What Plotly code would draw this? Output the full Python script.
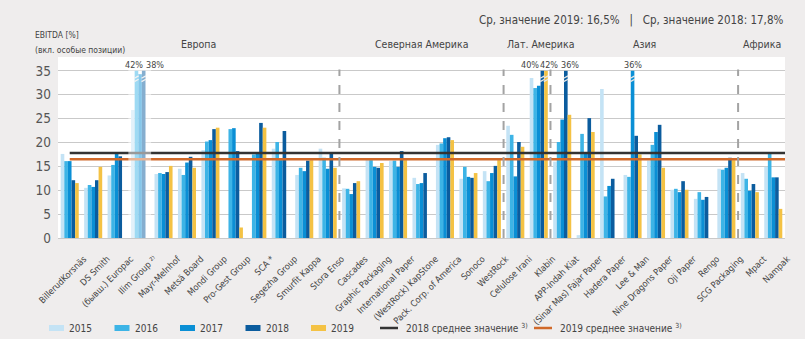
import plotly.graph_objects as go

# ---------------- data ----------------
companies = [
    "BillerudKorsnäs", "DS Smith", "(бывш.) Europac", "Ilim Group ²⁾", "Mayr-Melnhof",
    "Metsä Board", "Mondi Group", "Pro-Gest Group", "SCA *", "Segezha Group",
    "Smurfit Kappa", "Stora Enso",
    "Cascades", "Graphic Packaging", "International Paper", "(WestRock) KapStone",
    "Pack. Corp. of America", "Sonoco", "WestRock",
    "Celulose Irani", "Klabin",
    "APP-Indah Kiat", "(Sinar Mas) Fajar Paper", "Hadera Paper", "Lee & Man",
    "Nine Dragons Paper", "Oji Paper", "Rengo", "SCG Packaging",
    "Mpact", "Nampak",
]
regions = ["Европа", "Северная Америка", "Лат. Америка", "Азия", "Африка"]
region_sizes = [12, 7, 2, 8, 2]
years = ["2015", "2016", "2017", "2018", "2019"]

ebitda_2015 = [17.6, 10.5, 13.1, 26.8, 13.4, 14.5, 18.4, None, None, 18.7, 13.2, 18.7,
               10.4, 16.6, 16.1, 12.6, 19.5, 12.4, 14.0,
               23.5, 33.5,
               16.0, 0.6, 31.2, 13.2, 16.2, 10.1, 8.2, 14.5,
               13.6, 14.9]
ebitda_2016 = [16.1, 11.1, 15.3, 42.0, 13.6, 13.2, 20.2, 22.8, 17.5, 20.1, 14.7, 16.8,
               10.3, 16.3, 16.2, 11.3, 19.8, 14.9, 11.9,
               21.6, 31.4,
               20.1, 21.8, 8.7, 12.8, 19.5, 10.3, 9.6, 14.3,
               12.4, 17.6]
ebitda_2017 = [16.1, 10.7, 17.6, 34.3, 13.4, 15.8, 20.5, 23.0, 18.0, 16.3, 14.0, 14.5,
               9.2, 14.9, 14.9, 11.5, 20.9, 12.8, 13.6,
               12.9, 31.9,
               24.8, 17.6, 10.9, 36.0, 22.2, 9.6, 8.0, 14.7,
               9.9, 12.7]
ebitda_2018 = [12.1, 12.1, 17.1, 38.0, 13.8, 17.0, 22.8, 18.2, 24.1, 22.4, 16.2, 17.9,
               11.5, 14.7, 18.2, 13.6, 21.1, 12.6, 15.1,
               20.1, 40.0,
               36.0, 25.1, 12.4, 21.4, 23.7, 11.9, 8.6, 16.8,
               11.3, 12.7]
ebitda_2019 = [11.5, 14.9, None, None, 15.1, 14.7, 23.1, 2.2, 23.1, None, 16.3, 14.7,
               11.9, 15.7, 16.3, None, 20.5, 13.6, 16.3,
               19.1, 42.0,
               25.8, 22.2, None, 17.5, 14.7, 10.1, None, 16.3,
               9.6, 6.1]
series = [ebitda_2015, ebitda_2016, ebitda_2017, ebitda_2018, ebitda_2019]

avg_2018 = 17.8
avg_2019 = 16.5
avg_names = ["2018 среднее значение <sup>3)</sup>", "2019 среднее значение <sup>3)</sup>"]
axis_cap = 35          # bars above this value are broken
faded_company = "Ilim Group ²⁾"

# ---------------- style / layout geometry ----------------
colors = ["#c4e3f5", "#3db4e6", "#0a8fd5", "#0b5c9e", "#f4c244"]
avg_colors = ["#333333", "#d0692a"]
FONT = "DejaVu Sans Condensed, Liberation Sans Narrow, Roboto, sans-serif"
TXT = "#444444"
W, H = 805, 339
M = dict(l=58, r=20, t=57, b=101)
PW, PH = W - M["l"] - M["r"], H - M["t"] - M["b"]
bargap = 0.23
slot = (1 - bargap) / len(years)


def px_x(px):   # page pixel -> paper x
    return (px - M["l"]) / PW


def px_y(py):   # page pixel -> paper y
    return (H - M["b"] - py) / PH


x_idx = list(range(len(companies)))
fig = go.Figure()

for k, (yr, vals) in enumerate(zip(years, series)):
    shown = [None if v is None else min(v, axis_cap) for v in vals]
    fig.add_trace(go.Bar(
        x=x_idx, y=shown, name=yr, marker_color=colors[k], marker_line_width=0,
        customdata=vals, hovertemplate="%{customdata}%<extra>" + yr + "</extra>",
    ))

n = len(companies)
for name, val, col in zip(avg_names, [avg_2018, avg_2019], avg_colors):
    fig.add_trace(go.Scatter(
        x=[0, n - 0.5], y=[val, val], mode="lines", name=name,
        line=dict(color=col, width=2.5), hoverinfo="skip",
    ))

# broken-bar labels and break marks
label_shift = {("Ilim Group ²⁾", "2016"): -6, ("Ilim Group ²⁾", "2018"): 15,
               ("Klabin", "2018"): -9, ("Klabin", "2019"): 10,
               ("APP-Indah Kiat", "2018"): 8, ("Lee & Man", "2017"): 0}
annotations = []
shapes = []
for k, (yr, vals) in enumerate(zip(years, series)):
    for i, v in enumerate(vals):
        if v is not None and v > axis_cap:
            xb = i + (k - 2) * slot
            annotations.append(dict(x=i, y=axis_cap + 1.3, xref="x", yref="y",
                                    text=f"{v:.0f}%", showarrow=False,
                                    xshift=label_shift.get((companies[i], yr), 0),
                                    font=dict(size=9, color=TXT, family=FONT)))
            for dy in (-2.0, -1.3):
                shapes.append(dict(type="line", xref="x", yref="y", layer="above",
                                   x0=xb - slot * 0.6, x1=xb + slot * 0.6,
                                   y0=axis_cap + dy - 0.25, y1=axis_cap + dy + 0.25,
                                   line=dict(color="#e6e6e6", width=1.3)))

# region labels and separators
start = -0.5
for r, (reg, size) in enumerate(zip(regions, region_sizes)):
    center = start + size / 2
    anchor = "center"
    xpos = center
    if reg == "Лат. Америка":
        xpos, anchor = start + 0.05, "left"
    annotations.append(dict(x=xpos, y=px_y(44), xref="x", yref="paper", text=reg,
                            showarrow=False, xanchor=anchor, yanchor="middle",
                            font=dict(size=10.5, color=TXT, family=FONT)))
    start += size
    if r < len(regions) - 1:
        shapes.append(dict(type="line", x0=start, x1=start, y0=0, y1=axis_cap + 0.3,
                           xref="x", yref="y", layer="above",
                           line=dict(color="#a3a3a3", width=2, dash="dash")))

fi = companies.index(faded_company)
shapes.append(dict(type="rect", x0=fi - 0.5, x1=fi + 0.47, y0=0, y1=axis_cap + 0.3,
                   xref="x", yref="y", layer="above", fillcolor="white",
                   opacity=0.5, line_width=0))

# header texts
annotations += [
    dict(x=1.0, y=px_y(20), xref="paper", yref="paper", xanchor="right", yanchor="middle",
         text=f"Ср. значение 2019: {avg_2019:.1f}%".replace(".", ",") + "   |   " +
              f"Ср. значение 2018: {avg_2018:.1f}%".replace(".", ","),
         showarrow=False, font=dict(size=11.5, color=TXT, family=FONT)),
    dict(x=px_x(33), y=px_y(35), xref="paper", yref="paper", xanchor="left",
         yanchor="middle", text="EBITDA [%]", showarrow=False,
         font=dict(size=8.5, color=TXT, family=FONT)),
    dict(x=px_x(33), y=px_y(50), xref="paper", yref="paper", xanchor="left",
         yanchor="middle", text="(вкл. особые позиции)", showarrow=False,
         font=dict(size=8.5, color=TXT, family=FONT)),
]

# legend (drawn manually so the spacing matches the original)
LEG_Y = 328
for k, yr in enumerate(years):
    x0 = 49 + 65.5 * k
    shapes.append(dict(type="rect", xref="paper", yref="paper",
                       x0=px_x(x0), x1=px_x(x0 + 15), y0=px_y(LEG_Y + 3), y1=px_y(LEG_Y - 3),
                       fillcolor=colors[k], line_width=0, layer="above"))
    annotations.append(dict(x=px_x(x0 + 18), y=px_y(LEG_Y), xref="paper", yref="paper",
                            xanchor="left", yanchor="middle", text=yr, showarrow=False,
                            font=dict(size=10, color=TXT, family=FONT)))
for j, (name, col) in enumerate(zip(avg_names, avg_colors)):
    x0 = 380 + 154 * j
    shapes.append(dict(type="line", xref="paper", yref="paper",
                       x0=px_x(x0), x1=px_x(x0 + 18), y0=px_y(LEG_Y), y1=px_y(LEG_Y),
                       line=dict(color=col, width=2.5), layer="above"))
    annotations.append(dict(x=px_x(x0 + 24), y=px_y(LEG_Y), xref="paper", yref="paper",
                            xanchor="left", yanchor="middle", text=name, showarrow=False,
                            font=dict(size=10, color=TXT, family=FONT)))

fig.update_layout(
    width=W, height=H,
    margin=M,
    paper_bgcolor="#efeded", plot_bgcolor="white",
    barmode="group", bargap=bargap, bargroupgap=0,
    font=dict(family=FONT, color=TXT, size=11),
    showlegend=False,
    annotations=annotations, shapes=shapes,
)
fig.update_xaxes(range=[-0.5, n - 0.5], tickmode="array", tickvals=x_idx,
                 ticktext=companies, tickangle=-45, showgrid=False, zeroline=False,
                 showline=False, ticks="", ticklabelstandoff=13, ticklabelshift=14,
                 automargin=False,
                 tickfont=dict(size=9, color=TXT, family=FONT))
fig.update_yaxes(range=[0, 37.9], tickmode="array", tickvals=list(range(0, 36, 5)),
                 ticksuffix="%", showgrid=True, gridcolor="#c9c9c9", gridwidth=1,
                 zeroline=True, zerolinecolor="#c9c9c9", zerolinewidth=1,
                 ticks="", ticklabelstandoff=6, automargin=False,
                 tickfont=dict(size=13.5, color="#555555", family=FONT))

fig.write_html("out.html")
